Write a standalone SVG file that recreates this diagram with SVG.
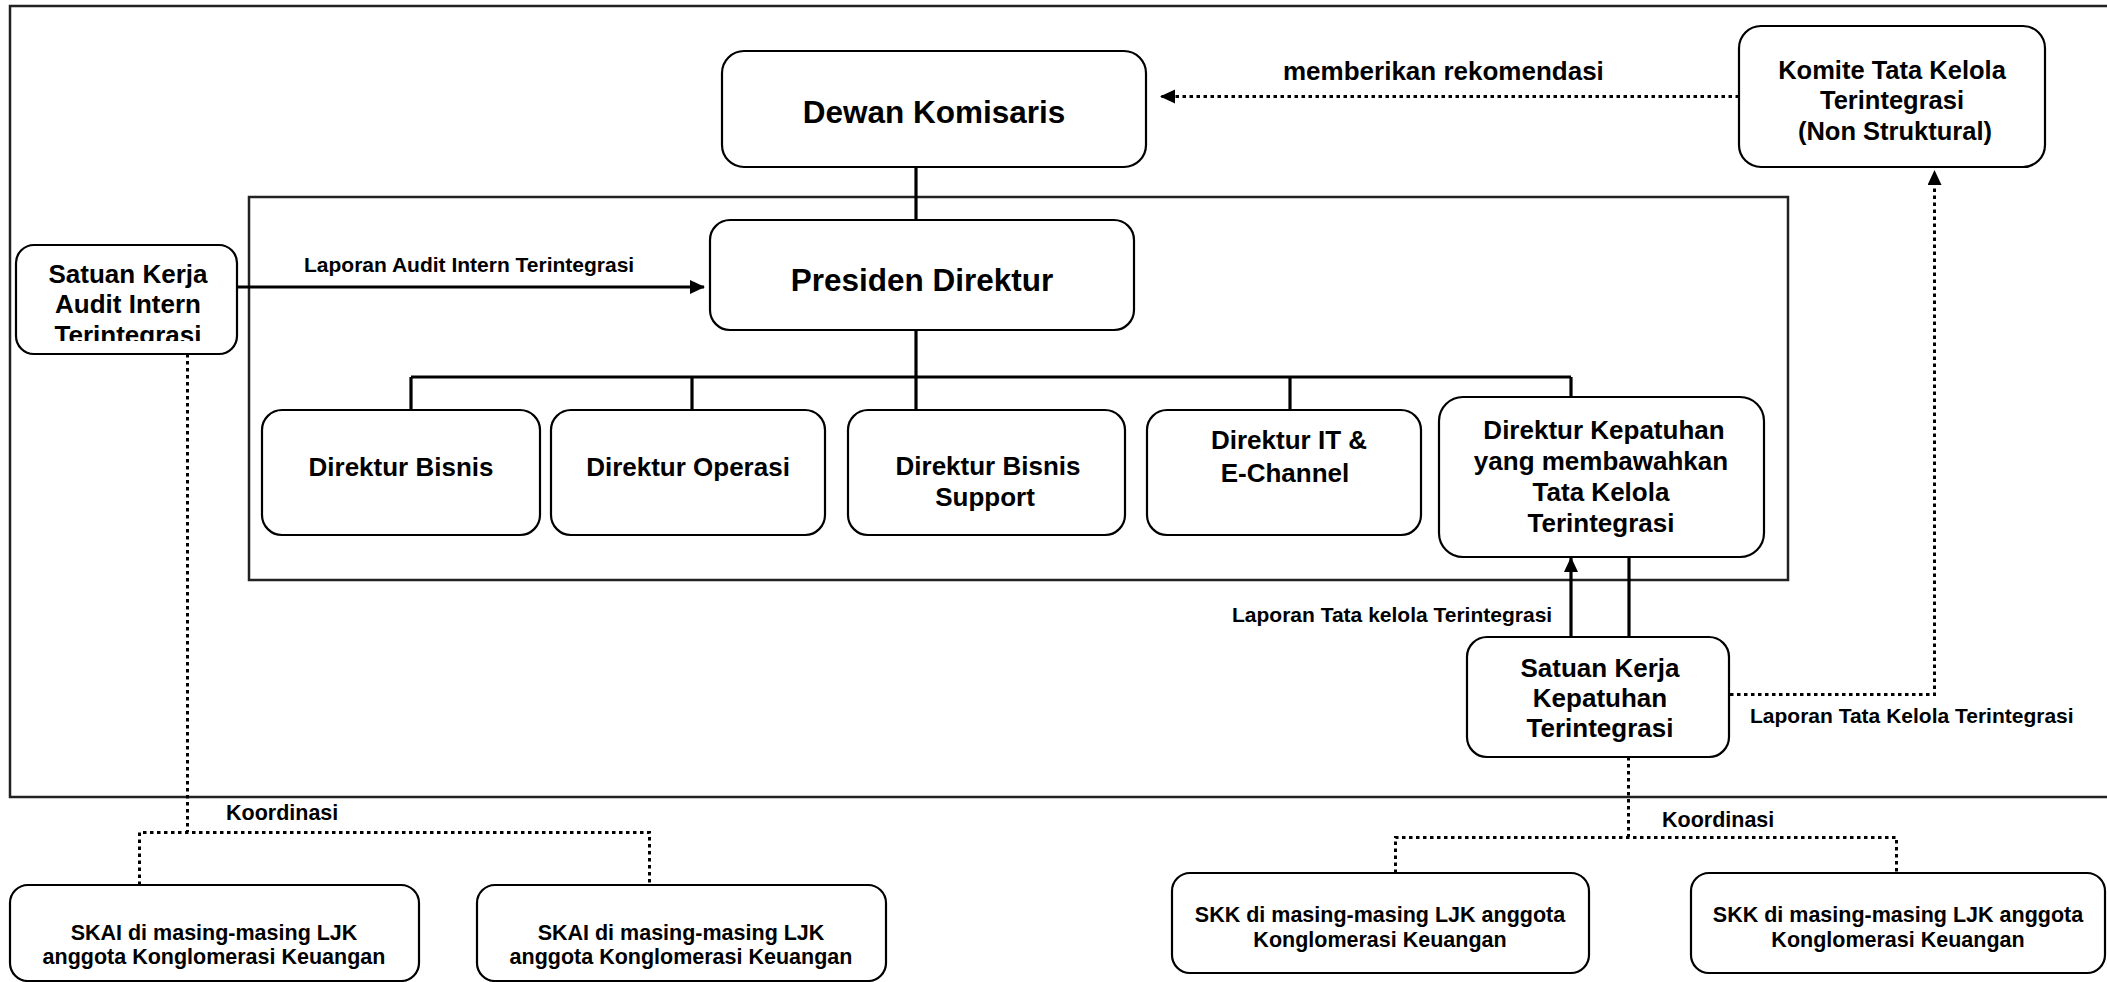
<svg xmlns="http://www.w3.org/2000/svg" width="2107" height="982" viewBox="0 0 2107 982">
<style>
text{font-family:"Liberation Sans",Arial,sans-serif;font-weight:bold;fill:#000;}
.c{text-anchor:middle;}
.box{fill:#fff;stroke:#000;stroke-width:2.2;}
.frame{fill:none;stroke:#222;stroke-width:2.5;}
.solid{fill:none;stroke:#000;stroke-width:3.2;}
.dot{fill:none;stroke:#000;stroke-width:3;stroke-dasharray:3.5 3.5;}
.t31{font-size:31.5px;}
.t26{font-size:26px;}
.t25{font-size:25.5px;}
.t21{font-size:21px;}
.t22{font-size:21.5px;}
</style>
<defs>
<marker id="ah" markerUnits="userSpaceOnUse" markerWidth="16" markerHeight="16" refX="14" refY="7" orient="auto">
<path d="M0,0 L15,7 L0,14 z" fill="#000"/>
</marker>
<clipPath id="auditClip"><rect x="16" y="245" width="221" height="96"/></clipPath>
</defs>
<rect width="2107" height="982" fill="#fff"/>
<g id="frames">
<path class="frame" d="M2112,6 H10 V797 H2112" stroke-width="3"/>
<rect class="frame" x="249" y="197" width="1539" height="383" stroke-width="2"/>
</g>
<g id="connectors">
<line class="solid" x1="916" y1="167" x2="916" y2="220"/>
<line class="solid" x1="916" y1="330" x2="916" y2="410"/>
<line class="solid" x1="411" y1="377" x2="1571" y2="377"/>
<line class="solid" x1="411" y1="377" x2="411" y2="410"/>
<line class="solid" x1="692" y1="377" x2="692" y2="410"/>
<line class="solid" x1="1290" y1="377" x2="1290" y2="410"/>
<line class="solid" x1="1571" y1="377" x2="1571" y2="397"/>
<line class="solid" x1="237" y1="287" x2="704" y2="287" marker-end="url(#ah)"/>
<line class="dot" x1="1739" y1="96.5" x2="1161" y2="96.5" marker-end="url(#ah)"/>
<polyline class="dot" points="1730,694.5 1934.5,694.5 1934.5,171" marker-end="url(#ah)"/>
<line class="solid" x1="1571" y1="637" x2="1571" y2="558" marker-end="url(#ah)"/>
<line class="solid" x1="1629" y1="557" x2="1629" y2="637"/>
<polyline class="dot" points="187.5,354 187.5,832"/>
<polyline class="dot" points="139.5,885 139.5,832.5 649.5,832.5 649.5,885"/>
<polyline class="dot" points="1628.5,757 1628.5,837"/>
<polyline class="dot" points="1395.5,873 1395.5,837.5 1896.5,837.5 1896.5,873"/>
<text class="t21" x="304" y="272">Laporan Audit Intern Terintegrasi</text>
<text class="t26" x="1283" y="80">memberikan rekomendasi</text>
<text class="t21" x="1232" y="622">Laporan Tata kelola Terintegrasi</text>
<text class="t21" x="1750" y="723">Laporan Tata Kelola Terintegrasi</text>
<text class="t22" x="226" y="820">Koordinasi</text>
<text class="t22" x="1662" y="827">Koordinasi</text>
</g>
<g id="dewan-komisaris">
<rect class="box" x="722" y="51" width="424" height="116" rx="22"/>
<text class="c t31" x="934" y="123">Dewan Komisaris</text>
</g>
<g id="komite">
<rect class="box" x="1739" y="26" width="306" height="141" rx="22"/>
<text class="c t25" x="1892" y="79">Komite Tata Kelola</text>
<text class="c t25" x="1892" y="109">Terintegrasi</text>
<text class="c t25" x="1895" y="140">(Non Struktural)</text>
</g>
<g id="presiden-direktur">
<rect class="box" x="710" y="220" width="424" height="110" rx="20"/>
<text class="c t31" x="922" y="291">Presiden Direktur</text>
</g>
<g id="audit-intern">
<rect class="box" x="16" y="245" width="221" height="109" rx="18"/>
<g clip-path="url(#auditClip)">
<text class="c t26" x="128" y="283">Satuan Kerja</text>
<text class="c t26" x="128" y="313">Audit Intern</text>
<text class="c t26" x="128" y="344">Terintegrasi</text>
</g>
</g>
<g id="dir-bisnis">
<rect class="box" x="262" y="410" width="278" height="125" rx="20"/>
<text class="c t26" x="401" y="476">Direktur Bisnis</text>
</g>
<g id="dir-operasi">
<rect class="box" x="551" y="410" width="274" height="125" rx="20"/>
<text class="c t26" x="688" y="476">Direktur Operasi</text>
</g>
<g id="dir-bisnis-support">
<rect class="box" x="848" y="410" width="277" height="125" rx="20"/>
<text class="c t26" x="988" y="475">Direktur Bisnis</text>
<text class="c t26" x="985" y="506">Support</text>
</g>
<g id="dir-it">
<rect class="box" x="1147" y="410" width="274" height="125" rx="20"/>
<text class="c t26" x="1289" y="449">Direktur IT &amp;</text>
<text class="c t26" x="1285" y="482">E-Channel</text>
</g>
<g id="dir-kepatuhan">
<rect class="box" x="1439" y="397" width="325" height="160" rx="24"/>
<text class="c t26" x="1604" y="439">Direktur Kepatuhan</text>
<text class="c t26" x="1601" y="470">yang membawahkan</text>
<text class="c t26" x="1601" y="501">Tata Kelola</text>
<text class="c t26" x="1601" y="532">Terintegrasi</text>
</g>
<g id="sk-kepatuhan">
<rect class="box" x="1467" y="637" width="262" height="120" rx="20"/>
<text class="c t26" x="1600" y="677">Satuan Kerja</text>
<text class="c t26" x="1600" y="707">Kepatuhan</text>
<text class="c t26" x="1600" y="737">Terintegrasi</text>
</g>
<g id="skai-1">
<rect class="box" x="10" y="885" width="409" height="96" rx="18"/>
<text class="c t22" x="214" y="940">SKAI di masing-masing LJK</text>
<text class="c t22" x="214" y="964">anggota Konglomerasi Keuangan</text>
</g>
<g id="skai-2">
<rect class="box" x="477" y="885" width="409" height="96" rx="18"/>
<text class="c t22" x="681" y="940">SKAI di masing-masing LJK</text>
<text class="c t22" x="681" y="964">anggota Konglomerasi Keuangan</text>
</g>
<g id="skk-1">
<rect class="box" x="1172" y="873" width="417" height="100" rx="18"/>
<text class="c t22" x="1380" y="922">SKK di masing-masing LJK anggota</text>
<text class="c t22" x="1380" y="947">Konglomerasi Keuangan</text>
</g>
<g id="skk-2">
<rect class="box" x="1691" y="873" width="414" height="100" rx="18"/>
<text class="c t22" x="1898" y="922">SKK di masing-masing LJK anggota</text>
<text class="c t22" x="1898" y="947">Konglomerasi Keuangan</text>
</g>
</svg>
